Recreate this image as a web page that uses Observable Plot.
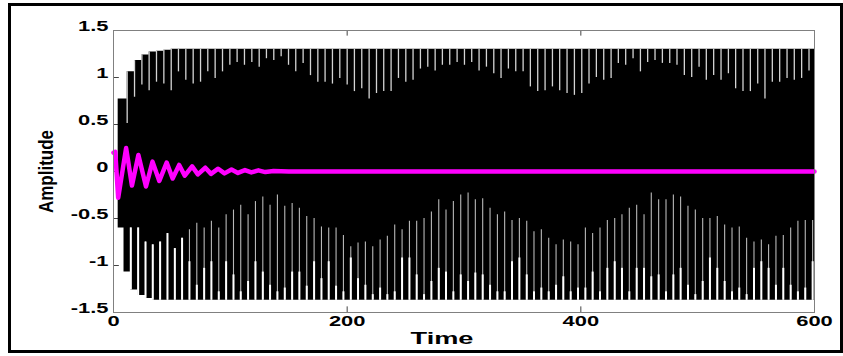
<!DOCTYPE html>
<html><head><meta charset="utf-8">
<script src="https://cdn.jsdelivr.net/npm/d3@7"></script>
<script src="https://cdn.jsdelivr.net/npm/@observablehq/plot@0.6"></script>
<style>body{margin:0;background:#fff}#chart{width:843px;height:356px}</style>
</head><body><div id="chart"></div>
<script>
// ---- tick labels ----
const xTicks = [0, 200, 400, 600];
const xTickLabels = ["0", "200", "400", "600"];
const yTicks = [-1.5, -1, -0.5, 0, 0.5, 1, 1.5];
const yTickLabels = ["-1.5", "-1", "-0.5", "0", "0.5", "1", "1.5"];

// ---- black signal: envelope (rise of the oscillation) ----
const envTopT = [4, 11.7, 18.0, 24.3, 30.5, 36.8, 43.1, 49.4, 600];
const envTopV = [0.77, 1.06, 1.18, 1.24, 1.27, 1.28, 1.29, 1.30, 1.30];
const envBotT = [4, 9.0, 14.8, 21.1, 27.4, 33.6, 600];
const envBotV = [-0.60, -1.07, -1.26, -1.32, -1.35, -1.37, -1.37];

// ---- black signal: troughs seen from the top (time, depth) ----
const topGapT = [11.7,18.0,24.3,30.5,36.8,43.1,49.4,55.6,61.9,68.2,74.5,80.7,87.0,93.3,99.6,105.8,112.1,118.4,124.7,130.9,137.2,143.5,149.8,
156.0,162.3,168.6,174.9,181.1,187.4,193.7,200.0,206.2,212.5,218.8,225.1,231.3,237.6,243.9,250.2,256.4,262.7,269.0,275.3,281.5,287.8,294.1,300.4,
306.6,312.9,319.2,325.5,331.7,338.0,344.3,350.6,356.8,363.1,369.4,375.7,381.9,388.2,394.5,400.8,407.0,413.3,419.6,425.9,432.1,438.4,444.7,451.0,
457.2,463.5,469.8,476.1,482.3,488.6,494.9,501.2,507.4,513.7,520.0,526.3,532.5,538.8,545.1,551.4,557.6,563.9,570.2,576.5,582.7,589.0,595.3];
const topGapD = [0.51,0.79,0.92,0.86,0.95,0.93,0.86,1.06,0.97,0.93,0.95,1.06,0.99,1.06,1.13,1.16,1.13,1.16,1.11,1.20,1.18,1.22,1.13,
1.06,1.15,1.02,0.95,0.95,0.93,0.99,0.92,0.85,0.88,0.77,0.83,0.85,0.85,0.99,0.95,0.97,1.09,1.11,1.07,1.13,1.13,1.16,1.13,
1.16,1.07,1.11,1.04,0.99,1.09,1.06,1.06,0.90,0.85,0.86,0.90,0.86,0.83,0.81,0.83,0.93,1.00,0.97,0.99,1.15,1.13,1.20,1.06,
1.16,1.18,1.15,1.15,1.13,1.02,1.00,1.11,0.97,1.02,0.97,1.04,0.88,0.85,0.85,0.93,0.77,0.95,0.95,0.99,0.97,0.99,1.07];

// ---- black signal: peaks seen from the bottom (time, tall reach, wide reach) ----
const botGapT = [14.8,21.1,27.4,33.6,39.9,46.2,52.5,58.7,65.0,71.3,77.6,83.8,90.1,96.4,102.7,108.9,115.2,121.5,127.8,134.0,140.3,146.6,
152.9,159.1,165.4,171.7,178.0,184.2,190.5,196.8,203.1,209.3,215.6,221.9,228.2,234.4,240.7,247.0,253.3,259.5,265.8,272.1,278.4,284.6,290.9,297.2,
303.5,309.7,316.0,322.3,328.6,334.8,341.1,347.4,353.7,359.9,366.2,372.5,378.8,385.0,391.3,397.6,403.9,410.1,416.4,422.7,429.0,435.2,441.5,447.8,
454.1,460.3,466.6,472.9,479.2,485.4,491.7,498.0,504.3,510.5,516.8,523.1,529.4,535.6,541.9,548.2,554.5,560.7,567.0,573.3,579.6,585.8,592.1,598.4];
const botGapH = [-0.60,-0.60,-0.75,-0.78,-0.75,-0.66,-0.82,-0.71,-0.62,-0.55,-0.60,-0.53,-0.60,-0.46,-0.41,-0.36,-0.46,-0.32,-0.27,-0.36,-0.25,-0.37,
-0.34,-0.39,-0.48,-0.50,-0.59,-0.60,-0.60,-0.68,-0.80,-0.76,-0.75,-0.80,-0.73,-0.69,-0.57,-0.62,-0.53,-0.53,-0.50,-0.43,-0.30,-0.41,-0.32,-0.25,
-0.23,-0.30,-0.29,-0.39,-0.46,-0.43,-0.52,-0.50,-0.53,-0.64,-0.62,-0.71,-0.78,-0.73,-0.75,-0.78,-0.60,-0.66,-0.60,-0.52,-0.50,-0.46,-0.39,-0.36,
-0.46,-0.23,-0.30,-0.30,-0.25,-0.27,-0.37,-0.41,-0.50,-0.50,-0.48,-0.57,-0.60,-0.59,-0.71,-0.75,-0.73,-0.78,-0.69,-0.68,-0.60,-0.53,-0.52,-0.52];
const botGapW = [-0.60,-0.60,-0.75,-0.78,-0.75,-0.66,-0.82,-0.71,-0.96,-1.21,-1.03,-0.96,-1.28,-0.96,-1.10,-1.28,-1.17,-0.96,-1.07,-1.21,-1.28,-1.24,
-1.07,-1.07,-1.22,-0.96,-1.14,-0.96,-1.22,-1.28,-0.92,-1.14,-1.21,-1.31,-1.24,-1.31,-1.28,-0.92,-0.92,-1.10,-1.31,-1.17,-1.03,-1.07,-1.28,-1.10,
-1.17,-1.08,-1.10,-1.21,-1.28,-1.28,-0.96,-0.92,-1.10,-1.28,-1.24,-1.28,-1.21,-1.12,-1.28,-1.24,-1.24,-1.07,-1.28,-1.03,-0.96,-1.03,-1.28,-1.03,
-1.03,-1.12,-1.10,-1.28,-1.10,-1.03,-1.21,-1.31,-1.17,-0.92,-1.03,-1.17,-1.28,-1.24,-1.31,-1.03,-0.96,-1.03,-1.21,-1.03,-1.21,-1.28,-1.24,-0.96];

// ---- magenta signal (damped) ----
const magT = [0, 1.5, 4.0, 10.8, 15.8, 21.3, 27.8, 33.4, 39.2, 45.5, 50.6, 56.2, 61.0, 67.3, 72.2, 78.6, 83.5, 89.6, 95.0, 101, 106.5, 112.5, 118, 124, 130, 137, 150, 600];
const magV = [0.20, 0.21, -0.28, 0.25, -0.15, 0.175, -0.16, 0.105, -0.10, 0.095, -0.075, 0.07, -0.045, 0.055, -0.03, 0.04, -0.025, 0.03, -0.02, 0.022, -0.015, 0.015, -0.01, 0.012, -0.006, 0.006, 0.0, 0.0];

// ---- tables built from the arrays ----
const envTop = envTopT.map((t, i) => ({t, v: envTopV[i]}));
const envBot = envBotT.map((t, i) => ({t, v: envBotV[i]}));
// envelope value (step-after) at a given time
const envAt = (T, V, t) => V[Math.max(0, d3.bisectRight(T, t) - 1)];
const topGaps = topGapT.map((t, i) => ({t, d: topGapD[i], e: Math.max(envAt(envTopT, envTopV, t), envAt(envTopT, envTopV, t - 0.1))}));
const botGaps = botGapT.map((t, i) => ({t, h: botGapH[i], w: botGapW[i], e: Math.min(envAt(envBotT, envBotV, t), envAt(envBotT, envBotV, t - 0.1))}));
const mag = magT.map((t, i) => ({t, v: magV[i]}));

const svg = Plot.plot({
  width: 843, height: 356,
  marginLeft: 113, marginRight: 29, marginTop: 30, marginBottom: 44,
  style: {background: "#fff", fontFamily: "'Liberation Sans', Arial, Helvetica, sans-serif", overflow: "visible"},
  x: {domain: [0, 600], axis: null},
  y: {domain: [-1.5, 1.5], axis: null},
  marks: [
    Plot.ruleY(yTicks, {x1: 0, x2: 5, stroke: "#444"}),
    Plot.ruleY(yTicks, {x1: 595, x2: 600, stroke: "#444"}),
    Plot.ruleX(xTicks, {y1: -1.5, y2: -1.44, stroke: "#444"}),
    Plot.ruleX(xTicks, {y1: 1.44, y2: 1.5, stroke: "#444"}),
    Plot.areaY(envTop, {x: "t", y1: 0, y2: "v", curve: "step-after", fill: "#000"}),
    Plot.areaY(envBot, {x: "t", y1: 0, y2: "v", curve: "step-after", fill: "#000"}),
    Plot.ruleX(topGaps, {x: "t", y1: "e", y2: "d", stroke: "#d4d4d4", strokeWidth: 1.3}),
    Plot.ruleX(botGaps, {x: "t", y1: "e", y2: "h", stroke: "#b8b8b8", strokeWidth: 1.1}),
    Plot.ruleX(botGaps, {x: "t", y1: "e", y2: "w", stroke: "#fff", strokeWidth: 2}),
    Plot.line(mag, {x: "t", y: "v", stroke: "#ff00ff", strokeWidth: 4.5}),
    Plot.frame({stroke: "#808080"}),
    Plot.text(yTicks, {x: 0, y: d => d, text: (d, i) => yTickLabels[i], textAnchor: "end", dx: -5, fontSize: 15, fontWeight: "bold", fill: "#000"}),
    Plot.text(xTicks, {x: d => d, y: -1.5, text: (d, i) => xTickLabels[i], dy: 13, fontSize: 15, fontWeight: "bold", fill: "#000"}),
    Plot.text(["Time"], {text: d => d, frameAnchor: "bottom", textAnchor: "middle", lineAnchor: "middle", dx: -22, dy: 31, fontSize: 17, fontWeight: "bold", fill: "#000"}),
    Plot.text(["Amplitude"], {text: d => d, frameAnchor: "left", textAnchor: "middle", lineAnchor: "middle", dx: -61, rotate: -90, fontSize: 17, fontWeight: "bold", fill: "#000"})
  ]
});

// horizontally widened lettering, as in the reference
d3.select(svg).selectAll("text").each(function () {
  const el = this, txt = el.textContent;
  const x = +el.getAttribute("x") || 0, y = +el.getAttribute("y") || 0;
  const tr = el.getAttribute("transform") || "";
  el.removeAttribute("x"); el.removeAttribute("y");
  const s = txt === "Amplitude" ? "scale(1,1.2)" : txt === "Time" ? "scale(1.6,1)" : "scale(1.46,1)";
  el.setAttribute("transform", `${tr} translate(${x},${y}) ${s}`);
});

// outer figure border
d3.select(svg).append("rect")
  .attr("x", 9.5).attr("y", 4.5).attr("width", 832).attr("height", 347)
  .attr("fill", "none").attr("stroke", "#000").attr("stroke-width", 3);

document.getElementById("chart").appendChild(svg);
</script></body></html>
